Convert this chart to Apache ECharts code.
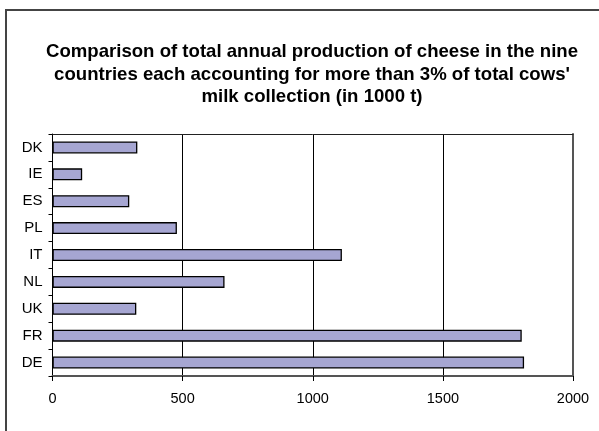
<!DOCTYPE html>
<html>
<head>
<meta charset="utf-8">
<script src="https://cdn.jsdelivr.net/npm/echarts@6/dist/echarts.min.js"></script>
<style>html,body{margin:0;padding:0;background:#fff;}#c{width:599px;height:431px;}</style>
</head>
<body>
<div id="c"></div>
<script>
const categories = ['DE', 'FR', 'UK', 'NL', 'IT', 'PL', 'ES', 'IE', 'DK'];
const values = [1812, 1803, 322, 661, 1112, 478, 295, 114, 326];
const xTicks = [0, 500, 1000, 1500, 2000];
const titleText = "Comparison of total annual production of cheese in the nine\ncountries each accounting for more than 3% of total cows'\nmilk collection (in 1000 t)";

const FONT = '"Liberation Sans", Arial, sans-serif';
const chart = echarts.init(document.getElementById('c'), null, {renderer: 'canvas'});
chart.setOption({
  animation: false,
  backgroundColor: '#fff',
  title: {
    text: titleText,
    left: 312,
    top: 41,
    textAlign: 'center',
    padding: 0,
    textStyle: {fontFamily: FONT, fontWeight: 'bold', fontSize: 18.6, lineHeight: 22.5, color: '#000', align: 'center'}
  },
  graphic: [{
    type: 'rect', silent: true, z: 100,
    shape: {x: 6, y: 10, width: 800, height: 800},
    style: {fill: 'none', stroke: '#444', lineWidth: 2}
  }],
  grid: {left: 52.5, right: 26, top: 134, bottom: 55, containLabel: false},
  xAxis: [{
    type: 'value', min: xTicks[0], max: xTicks[xTicks.length - 1], interval: 500,
    axisLine: {show: true, onZero: false, lineStyle: {color: '#555', width: 2}},
    axisTick: {show: true, length: 5, lineStyle: {color: '#000', width: 1}},
    axisLabel: {fontFamily: FONT, fontSize: 14.5, color: '#000', margin: 15, formatter: v => String(v)},
    splitLine: {show: true, lineStyle: {color: '#000', width: 1}}
  }, {
    type: 'value', position: 'top', min: 0, max: 2000,
    axisLine: {show: true, onZero: false, lineStyle: {color: '#222', width: 1}},
    axisTick: {show: false}, axisLabel: {show: false}, splitLine: {show: false}
  }],
  yAxis: [{
    type: 'category', data: categories,
    axisLine: {show: true, onZero: false, lineStyle: {color: '#000', width: 1}},
    axisTick: {show: true, length: 4, lineStyle: {color: '#000'}},
    axisLabel: {fontFamily: FONT, fontSize: 15, color: '#000', margin: 10},
    splitLine: {show: false}
  }, {
    type: 'category', data: categories, position: 'right',
    axisLine: {show: true, onZero: false, lineStyle: {color: '#555', width: 2}},
    axisTick: {show: false}, axisLabel: {show: false}, splitLine: {show: false}
  }],
  series: [{
    type: 'bar', data: values, barWidth: 12,
    itemStyle: {color: '#a6a6d2', borderColor: '#000', borderWidth: 1.3},
    z: 3
  }]
});
</script>
</body>
</html>
